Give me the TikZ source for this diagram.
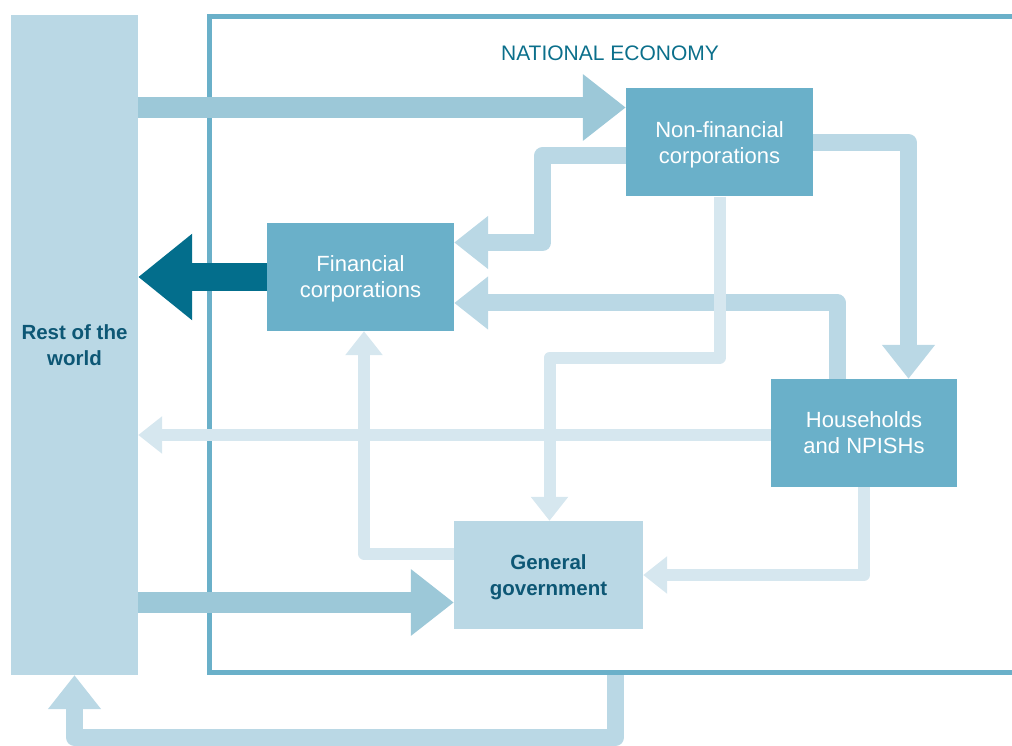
\documentclass[tikz,border=0pt]{standalone}
\usepackage{fontspec}
\setmainfont{Liberation Sans}
\usetikzlibrary{arrows.meta}
\definecolor{boxblue}{HTML}{6AB0C9}
\definecolor{paleblue}{HTML}{BAD8E5}
\definecolor{bandblue}{HTML}{9CC8D8}
\definecolor{faintblue}{HTML}{D6E7EF}
\definecolor{deepblue}{HTML}{036E8C}
\definecolor{titleblue}{HTML}{0B6F8B}
\definecolor{darktext}{HTML}{0D5775}
\begin{document}
\begin{tikzpicture}[x=1pt,y=1pt,
  sector/.style={rectangle, fill=boxblue, text=white, align=center, inner sep=0pt, text depth=0pt,
    minimum width=187pt, minimum height=108pt, font=\fontsize{22}{26}\selectfont},
  palesector/.style={sector, fill=paleblue, text=darktext, font=\fontsize{20.5}{26}\selectfont\bfseries},
  band/.style={line width=21pt, draw=bandblue, -{Triangle[length=43pt,width=64pt]}},
  outflow/.style={line width=28pt, draw=deepblue, -{Triangle[length=54pt,width=83pt]}},
  flow/.style={line width=17pt, draw=paleblue, line join=round, -{Triangle[length=34pt,width=51pt]}},
  faintflow/.style={line width=12pt, draw=faintblue, line join=round, -{Triangle[length=24pt,width=36pt]}}]
\useasboundingbox (0,0) rectangle (1012,745);
\draw[boxblue, line width=5pt] (1012,728.5) -- (209.5,728.5) -- (209.5,72.5) -- (1012,72.5);
\node[text=titleblue, font=\fontsize{21}{25}\selectfont] (title) at (610,692) {NATIONAL ECONOMY};
\node[palesector, minimum width=127pt, minimum height=660pt] (rest) at (74.5,400) {Rest of the\\world};
\node[sector] (nfc) at (719.5,602.5) {Non-financial\\corporations};
\node[sector] (fc) at (360.5,468) {Financial\\corporations};
\node[sector, minimum width=186pt] (hh) at (864,312) {Households\\and NPISHs};
\node[palesector, minimum width=189pt] (gg) at (548.5,170) {General\\government};
\coordinate (in1) at ([yshift=35pt]nfc.west);
\coordinate (in2) at ([yshift=-27.5pt]gg.west);
\coordinate (out1) at ([yshift=-2pt]hh.west);
\coordinate (ecobase) at (615.5,70);
\draw[band] (rest.east |- in1) -- (in1);
\draw[band] (rest.east |- in2) -- (in2);
\draw[outflow] (fc.west) -- (rest.east |- fc.west);
\draw[flow] ([yshift=-13pt]nfc.west) -- ++(-83,0) |- ([yshift=34.5pt]fc.east);
\draw[flow] ([xshift=-26.5pt]hh.north) |- ([yshift=-26pt]fc.east);
\draw[flow] (nfc.east) -| ([xshift=44.5pt]hh.north);
\draw[flow] (ecobase) -- (615.5,7.5) -| (rest.south);
\draw[faintflow] (out1) -- (rest.east |- out1);
\draw[faintflow] (nfc.south) -- ++(0,-161) -| ([xshift=1pt]gg.north);
\draw[faintflow] ([yshift=21.5pt]gg.west) -| ([xshift=3.5pt]fc.south);
\draw[faintflow] (hh.south) |- (gg.east);
\end{tikzpicture}
\end{document}
